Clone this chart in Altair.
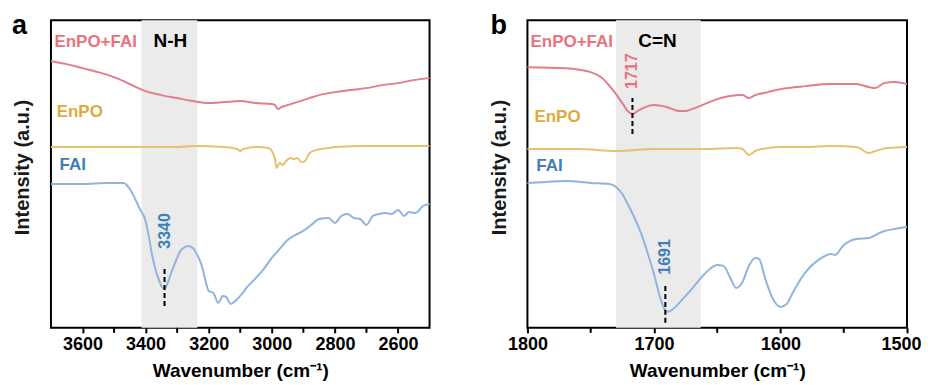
import altair as alt
import pandas as pd

FONT = "Liberation Sans"
SERIES = ["EnPO+FAI", "EnPO", "FAI"]
LINE_COLORS = ["#E27D8C", "#E6C170", "#92B3DB"]
TEXT_COLORS = {"EnPO+FAI": "#E8737E", "EnPO": "#E0AA3A", "FAI": "#3E7FB6", "k": "#000000"}

# ---------------- panel a (N-H region) ----------------
a_red_x = [3700, 3650, 3600, 3550, 3500, 3450, 3400, 3350, 3300, 3250, 3200, 3150, 3100, 3050, 3000,
           2990, 2980, 2970, 2950, 2920, 2900, 2880, 2850, 2800, 2750, 2700, 2650, 2600, 2550, 2500]
a_red_y = [267, 264, 260, 256, 251, 244, 237, 233, 230, 227, 225, 226, 227, 225, 224,
           223, 219, 221, 223, 226, 228, 230, 233, 236, 238, 240, 243, 245, 248, 250]

a_yel_x = [3700, 3500, 3300, 3250, 3150, 3110, 3100, 3090, 3050, 3010, 3000, 2990, 2985, 2975,
           2965, 2955, 2940, 2930, 2920, 2905, 2895, 2880, 2860, 2820, 2800, 2700, 2600, 2500]
a_yel_y = [181, 181, 181, 182, 181, 179, 177, 179, 181, 180, 177, 169, 160, 165,
           163, 167, 170, 169, 170, 166, 167, 175, 178, 180, 181, 182, 182, 182]

a_blu_x = [3700, 3600, 3520, 3470, 3450, 3430, 3420, 3400, 3390, 3380, 3370, 3360, 3350, 3340,
           3330, 3320, 3300, 3290, 3280, 3265, 3250, 3240, 3230, 3220, 3210, 3200, 3185, 3170,
           3155, 3145, 3130, 3115, 3100, 3075, 3050, 3025, 3000, 2975, 2950, 2925, 2900, 2875,
           2850, 2820, 2800, 2780, 2760, 2740, 2720, 2700, 2680, 2660, 2640, 2620, 2600, 2580,
           2565, 2545, 2520, 2500]
a_blu_pix = [183, 183, 182, 182, 188, 200, 207, 220, 235, 253, 267, 277, 285, 288,
             282, 273, 257, 250, 247, 245, 247, 252, 258, 267, 280, 290, 292, 302,
             295, 296, 303, 300, 295, 285, 277, 268, 257, 248, 239, 234, 230, 224,
             218, 217, 222, 215, 213, 217, 218, 224, 215, 213, 212, 213, 209, 215,
             211, 212, 205, 203]
a_blu_y = [327 - p for p in a_blu_pix]

a_shade = [3413, 3236]
a_peak_x = [3340]
a_peak_lo = [22]
a_peak_hi = [60]
a_num_text = ["3340"]
a_num_y = [97]
a_num_series = ["FAI"]
a_lab_text = ["EnPO+FAI", "N-H", "EnPO", "FAI"]
a_lab_x = [3689, 3375, 3682, 3673]
a_lab_y = [286, 287, 216, 163]
a_lab_key = ["EnPO+FAI", "k", "EnPO", "FAI"]
a_lab_size = [17, 19, 17, 17]
a_major = [3600, 3400, 3200, 3000, 2800, 2600]
a_minor = [3500, 3300, 3100, 2900, 2700]

# ---------------- panel b (C=N region) ----------------
b_red_x = [1800, 1770, 1750, 1740, 1735, 1730, 1725, 1720, 1717, 1713, 1707, 1700, 1690, 1680, 1675,
           1670, 1660, 1650, 1640, 1630, 1625, 1620, 1610, 1600, 1580, 1560, 1540, 1530, 1525, 1518,
           1510, 1500]
b_red_pix = [66, 67, 71, 78, 85, 93, 102, 111, 113, 110, 106, 104, 106, 110, 110,
             108, 103, 98, 95, 94, 97, 94, 91, 88, 85, 83, 83, 86, 87, 82,
             81, 83]
b_red_y = [327 - p for p in b_red_pix]

b_yel_x = [1800, 1760, 1730, 1700, 1660, 1635, 1630, 1625, 1620, 1615, 1600, 1580, 1560, 1540,
           1530, 1525, 1515, 1500]
b_yel_pix = [148, 148, 150, 148, 148, 147, 148, 154, 150, 148, 146, 146, 145, 146,
             152, 150, 147, 146]
b_yel_y = [327 - p for p in b_yel_pix]

b_blu_x = [1800, 1785, 1770, 1750, 1735, 1730, 1725, 1720, 1715, 1710, 1705, 1700, 1695, 1690,
           1687, 1683, 1680, 1670, 1660, 1650, 1645, 1640, 1635, 1630, 1625, 1620, 1617, 1612,
           1606, 1600, 1595, 1590, 1580, 1570, 1560, 1557, 1550, 1540, 1530, 1520, 1510, 1500]
b_blu_pix = [182, 181, 180, 182, 183, 186, 193, 205, 218, 233, 252, 273, 297, 311,
             310, 306, 302, 288, 273, 264, 265, 276, 287, 281, 265, 257, 258, 278,
             298, 306, 303, 291, 271, 259, 253, 254, 244, 238, 237, 231, 228, 226]
b_blu_y = [327 - p for p in b_blu_pix]

b_shade = [1730, 1663]
b_peak_x = [1717, 1691]
b_peak_lo = [194, 5]
b_peak_hi = [230, 42]
b_num_text = ["1717", "1691"]
b_num_y = [257, 71]
b_num_series = ["EnPO+FAI", "FAI"]
b_lab_text = ["EnPO+FAI", "C=N", "EnPO", "FAI"]
b_lab_x = [1797.6, 1712.4, 1794.5, 1793]
b_lab_y = [286, 287, 211, 162]
b_lab_key = ["EnPO+FAI", "k", "EnPO", "FAI"]
b_lab_size = [17, 19, 17, 17]
b_major = [1800, 1700, 1600, 1500]
b_minor = [1750, 1650, 1550]

Y_MAX = 308
H = 308


def panel(xdom, width, curves, shade, px, plo, phi, ntext, ny, nser,
          ltext, lx, ly, lkey, lsize, letter, letter_x, major, minor):
    xs = alt.Scale(domain=xdom, reverse=True, nice=False, zero=False)
    ys = alt.Scale(domain=[0, Y_MAX], nice=False, zero=False)
    last_test = f"datum.value === {xdom[0]}"
    xaxis = alt.Axis(values=major, format="d", labelOverlap=False, labelFlush=False,
                     labelAlign={"condition": {"test": last_test, "value": "right"},
                                 "value": "center"},
                     labelOffset={"condition": {"test": last_test, "value": 14}, "value": 0},
                     title="Wavenumber (cm\u207b\u00b9)")
    yaxis = alt.Axis(title="Intensity (a.u.)", labels=False, ticks=False, domain=False,
                     tickSize=0, titleY=147, titlePadding=18)

    rows = []
    for name, xv, yv in curves:
        for a, b in zip(xv, yv):
            rows.append({"wn": a, "inten": b, "series": name})
    df_lines = pd.DataFrame(rows)

    df_shade = pd.DataFrame({"x1": [shade[0]], "x2": [shade[1]], "y1": [0], "y2": [Y_MAX]})
    base_shade = alt.Chart(df_shade).mark_rect(color="#EBEBEB").encode(
        x=alt.X("x1:Q", scale=xs, axis=xaxis), x2="x2:Q",
        y=alt.Y("y1:Q", scale=ys, axis=yaxis), y2="y2:Q")

    lines = alt.Chart(df_lines).mark_line(strokeWidth=2, interpolate="monotone").encode(
        x=alt.X("wn:Q", scale=xs, axis=xaxis),
        y=alt.Y("inten:Q", scale=ys, axis=yaxis),
        color=alt.Color("series:N", scale=alt.Scale(domain=SERIES, range=LINE_COLORS), legend=None),
        detail="series:N")

    df_minor = pd.DataFrame({"mt": minor})
    minor_ticks = alt.Chart(df_minor).mark_rule(color="black", strokeWidth=2).encode(
        x="mt:Q", y=alt.value(H), y2=alt.value(H + 5))

    df_rule = pd.DataFrame({"px": px, "lo": plo, "hi": phi})
    rules = alt.Chart(df_rule).mark_rule(color="black", strokeWidth=2, strokeDash=[5, 3]).encode(
        x="px:Q", y="lo:Q", y2="hi:Q")

    df_num = pd.DataFrame({"t": ntext, "x": [float(v) for v in px], "y": ny,
                           "c": [TEXT_COLORS[s] for s in nser]})
    nums = alt.Chart(df_num).mark_text(angle=270, font=FONT, fontSize=16, fontWeight="bold",
                                       align="center", baseline="middle").encode(
        x="x:Q", y="y:Q", text="t:N", fill=alt.Fill("c:N", scale=None))

    df_lab = pd.DataFrame({"t": ltext, "x": lx, "y": ly, "c": [TEXT_COLORS[k] for k in lkey],
                           "s": lsize})
    labs = alt.Chart(df_lab).mark_text(font=FONT, fontWeight="bold", align="left",
                                       baseline="middle").encode(
        x="x:Q", y="y:Q", text="t:N", fill=alt.Fill("c:N", scale=None),
        size=alt.Size("s:Q", scale=None))

    df_letter = pd.DataFrame({"t": [letter]})
    let = alt.Chart(df_letter).mark_text(font=FONT, fontSize=27, fontWeight="bold",
                                         align="left", baseline="alphabetic", color="black").encode(
        x=alt.value(letter_x), y=alt.value(14), text="t:N")

    return alt.layer(base_shade, lines, minor_ticks, rules, nums, labs, let).properties(
        width=width, height=H)


pa = panel([2500, 3700], 379,
           [("EnPO+FAI", a_red_x, a_red_y), ("EnPO", a_yel_x, a_yel_y), ("FAI", a_blu_x, a_blu_y)],
           a_shade, a_peak_x, a_peak_lo, a_peak_hi, a_num_text, a_num_y, a_num_series,
           a_lab_text, a_lab_x, a_lab_y, a_lab_key, a_lab_size, "a", -39, a_major, a_minor)

pb = panel([1500, 1800], 380,
           [("EnPO+FAI", b_red_x, b_red_y), ("EnPO", b_yel_x, b_yel_y), ("FAI", b_blu_x, b_blu_y)],
           b_shade, b_peak_x, b_peak_lo, b_peak_hi, b_num_text, b_num_y, b_num_series,
           b_lab_text, b_lab_x, b_lab_y, b_lab_key, b_lab_size, "b", -37, b_major, b_minor)

chart = alt.hconcat(pa, pb, spacing=98, bounds="flush").resolve_scale(
    x="independent", y="independent"
).properties(
    padding={"left": 3, "top": 3, "right": 0, "bottom": 0}
).configure_view(
    stroke="black", strokeWidth=2
).configure_axis(
    grid=False, labelFont=FONT, titleFont=FONT, labelColor="black", titleColor="black"
).configure_axisX(
    domain=False, tickColor="black", tickWidth=2, tickSize=5, labelPadding=3,
    labelFontSize=18, labelFontWeight="bold", titleFontSize=19, titleFontWeight="bold",
    titlePadding=8
).configure_axisY(
    titleFontSize=20, titleFontWeight="bold", titleColor="#1a1a1a"
)

chart.save("out.html", embed_options={"renderer": "svg", "actions": False})
